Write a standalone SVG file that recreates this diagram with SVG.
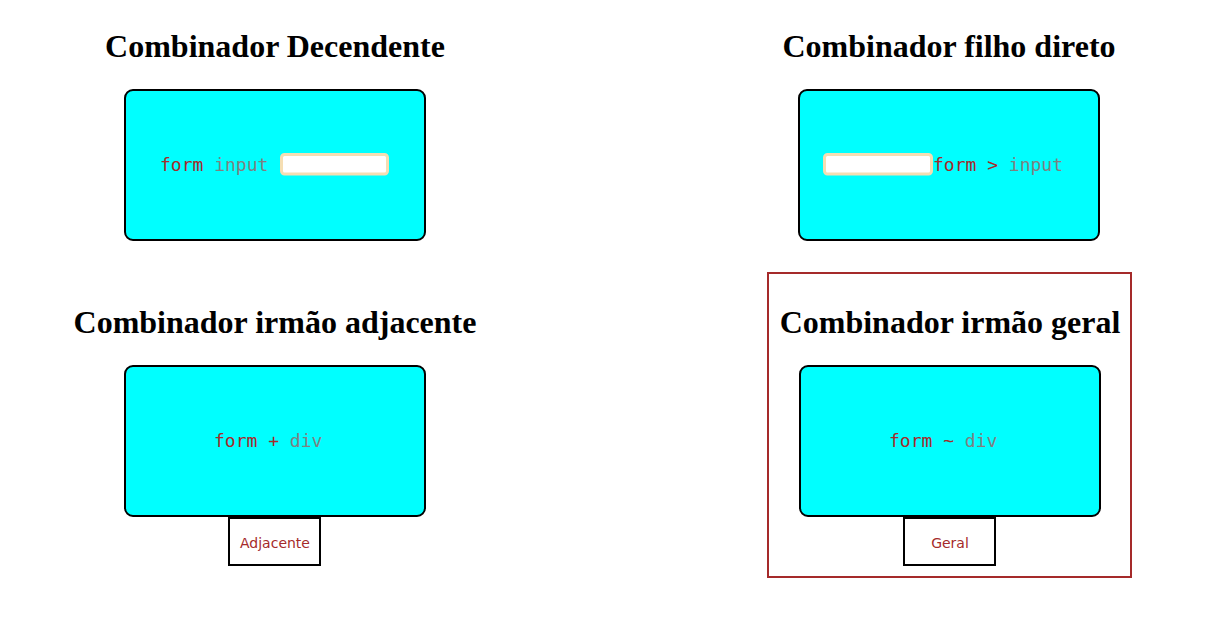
<svg xmlns="http://www.w3.org/2000/svg" width="1227" height="626" viewBox="0 0 1227 626">
<style>
.h{font-family:"Liberation Serif","Times New Roman",serif;font-weight:bold;font-size:32px;fill:#000;text-anchor:middle}
.box{fill:#00ffff;stroke:#000;stroke-width:2}
.code{font-family:"DejaVu Sans Mono",monospace;font-size:18px;white-space:pre}
.sel{fill:#a52a2a}
.el{fill:#808080}
.inp{fill:#fff;stroke:#f5deb3;stroke-width:3}
.small{fill:#fff;stroke:#000;stroke-width:2}
.lbl{font-family:"DejaVu Sans",sans-serif;font-size:14px;fill:#a52a2a;text-anchor:middle}
</style>
<rect width="1227" height="626" fill="#fff"/>
<g id="descendente">
<text class="h" x="275" y="57">Combinador Decendente</text>
<rect class="box" x="125" y="90" width="300" height="150" rx="8"/>
<text class="code" x="160" y="171"><tspan class="sel">form</tspan><tspan class="el"> input</tspan></text>
<rect class="inp" x="281.5" y="154.5" width="106" height="19.5" rx="3"/>
</g>
<g id="filho-direto">
<text class="h" x="949" y="57">Combinador filho direto</text>
<rect class="box" x="799" y="90" width="300" height="150" rx="8"/>
<rect class="inp" x="824.5" y="154.5" width="107" height="19.5" rx="3"/>
<text class="code" x="933" y="171"><tspan class="sel">form &gt; </tspan><tspan class="el">input</tspan></text>
</g>
<g id="irmao-adjacente">
<text class="h" x="275" y="333">Combinador irmão adjacente</text>
<rect class="box" x="125" y="366" width="300" height="150" rx="8"/>
<text class="code" x="214" y="447"><tspan class="sel">form + </tspan><tspan class="el">div</tspan></text>
<rect class="small" x="229" y="518" width="91" height="47"/>
<text class="lbl" x="275" y="548">Adjacente</text>
</g>
<g id="irmao-geral">
<rect x="768" y="273" width="363" height="304" fill="none" stroke="#a52a2a" stroke-width="2"/>
<text class="h" x="950" y="333">Combinador irmão geral</text>
<rect class="box" x="800" y="366" width="300" height="150" rx="8"/>
<text class="code" x="889" y="447"><tspan class="sel">form ~ </tspan><tspan class="el">div</tspan></text>
<rect class="small" x="904" y="518" width="91" height="47"/>
<text class="lbl" x="950" y="548">Geral</text>
</g>
<g id="connectors"></g>
</svg>
